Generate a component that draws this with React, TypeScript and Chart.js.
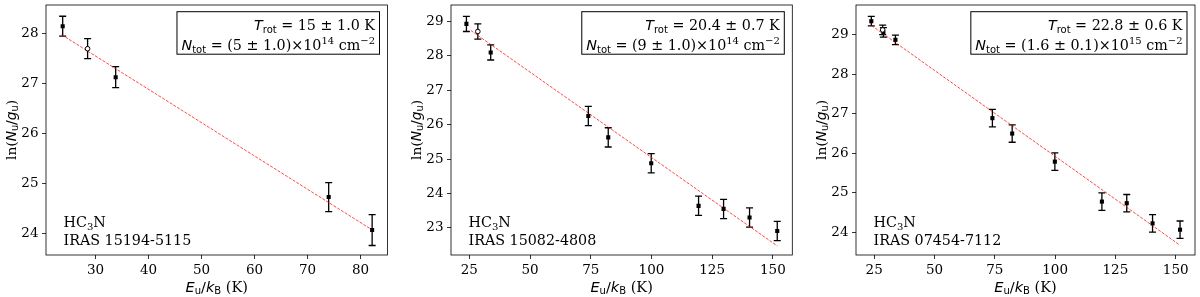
import React, { useEffect, useRef } from "react";
import { Chart, registerables } from "chart.js";
Chart.register(...registerables);

// ---------- Panel 1 : IRAS 15194-5115 ----------
const p1Energy = [23.8, 28.5, 33.8, 74.0, 82.2];
const p1LnN = [28.15, 27.70, 27.13, 24.73, 24.07];
const p1Err = [0.20, 0.20, 0.21, 0.29, 0.31];
const p1Open = [false, true, false, false, false];
const p1FitE = [23.6, 81.8];
const p1FitLn = [27.98, 24.10];
const p1XRange = [20.65, 85.1];
const p1YRange = [23.57, 28.575];
const p1XTicks = [30, 40, 50, 60, 70, 80];
const p1YTicks = [24, 25, 26, 27, 28];
const p1Trot = "15 ± 1.0 K";
const p1NtotMant = "(5 ± 1.0)×10";
const p1NtotExp = "14";
const p1Source = "IRAS 15194-5115";

// ---------- Panel 2 : IRAS 15082-4808 ----------
const p2Energy = [23.8, 28.5, 33.8, 74.0, 82.2, 99.9, 119.4, 129.7, 140.4, 151.8];
const p2LnN = [28.93, 28.71, 28.10, 26.25, 25.63, 24.88, 23.64, 23.55, 23.30, 22.91];
const p2Err = [0.22, 0.22, 0.22, 0.28, 0.28, 0.28, 0.28, 0.28, 0.28, 0.28];
const p2Open = [false, true, false, false, false, false, false, false, false, false];
const p2FitE = [25.6, 151.9];
const p2FitLn = [28.74, 22.47];
const p2XRange = [17.45, 158.0];
const p2YRange = [22.21, 29.48];
const p2XTicks = [25, 50, 75, 100, 125, 150];
const p2YTicks = [23, 24, 25, 26, 27, 28, 29];
const p2Trot = "20.4 ± 0.7 K";
const p2NtotMant = "(9 ± 1.0)×10";
const p2NtotExp = "14";
const p2Source = "IRAS 15082-4808";

// ---------- Panel 3 : IRAS 07454-7112 ----------
const p3Energy = [23.8, 28.5, 28.8, 33.8, 74.0, 82.2, 99.9, 119.4, 129.7, 140.4, 151.8];
const p3LnN = [29.34, 29.12, 29.06, 28.87, 26.89, 26.50, 25.79, 24.78, 24.74, 24.23, 24.07];
const p3Err = [0.12, 0.12, 0.12, 0.12, 0.22, 0.22, 0.22, 0.22, 0.22, 0.22, 0.22];
const p3Open = [false, true, false, false, false, false, false, false, false, false, false];
const p3FitE = [23.9, 151.7];
const p3FitLn = [29.23, 23.68];
const p3XRange = [17.45, 158.0];
const p3YRange = [23.43, 29.75];
const p3XTicks = [25, 50, 75, 100, 125, 150];
const p3YTicks = [24, 25, 26, 27, 28, 29];
const p3Trot = "22.8 ± 0.6 K";
const p3NtotMant = "(1.6 ± 0.1)×10";
const p3NtotExp = "15";
const p3Source = "IRAS 07454-7112";

const molecule = ["HC", "3", "N"];

type PanelData = {
  energy: number[]; lnN: number[]; err: number[]; open: boolean[];
  fitE: number[]; fitLn: number[]; xRange: number[]; yRange: number[];
  xTicks: number[]; yTicks: number[]; trot: string; ntotMant: string; ntotExp: string; source: string;
};

const panelsData: PanelData[] = [
  { energy: p1Energy, lnN: p1LnN, err: p1Err, open: p1Open, fitE: p1FitE, fitLn: p1FitLn, xRange: p1XRange, yRange: p1YRange, xTicks: p1XTicks, yTicks: p1YTicks, trot: p1Trot, ntotMant: p1NtotMant, ntotExp: p1NtotExp, source: p1Source },
  { energy: p2Energy, lnN: p2LnN, err: p2Err, open: p2Open, fitE: p2FitE, fitLn: p2FitLn, xRange: p2XRange, yRange: p2YRange, xTicks: p2XTicks, yTicks: p2YTicks, trot: p2Trot, ntotMant: p2NtotMant, ntotExp: p2NtotExp, source: p2Source },
  { energy: p3Energy, lnN: p3LnN, err: p3Err, open: p3Open, fitE: p3FitE, fitLn: p3FitLn, xRange: p3XRange, yRange: p3YRange, xTicks: p3XTicks, yTicks: p3YTicks, trot: p3Trot, ntotMant: p3NtotMant, ntotExp: p3NtotExp, source: p3Source },
];

// layout (pixel geometry of each panel's canvas)
const layouts = [
  { left: 0, areaLeft: 46, areaRight: 387.5 },
  { left: 400, areaLeft: 51, areaRight: 392.3 },
  { left: 800, areaLeft: 56, areaRight: 397 },
];
const CANVAS_W = 400;
const CANVAS_H = 297;
const AREA_TOP = 2.7;
const AREA_BOTTOM = 255;

const SERIF = '"DejaVu Serif", serif';
const SANS = '"DejaVu Sans", sans-serif';
const F_SERIF = `14.3px ${SERIF}`;
const F_SERIF_S = `10px ${SERIF}`;
const F_SANS_IT = `italic 14.3px ${SANS}`;
const F_SANS_S = `10px ${SANS}`;
const F_XT = `14.5px ${SANS}`;
const F_XT_IT = `italic 14.5px ${SANS}`;
const F_XT_S = `10px ${SANS}`;
const F_XT_SERIF = `14.5px ${SERIF}`;
const F_YT_SERIF = `13.8px ${SERIF}`;
const F_YT = `13.8px ${SANS}`;
const F_YT_IT = `italic 13.8px ${SANS}`;
const F_YT_S = `9.7px ${SANS}`;

type Seg = { t: string; f: string; dy?: number };

function segsWidth(ctx: CanvasRenderingContext2D, segs: Seg[]) {
  let w = 0;
  for (const s of segs) { ctx.font = s.f; w += ctx.measureText(s.t).width; }
  return w;
}
function drawSegs(ctx: CanvasRenderingContext2D, segs: Seg[], x: number, y: number, align: "left" | "right" | "center") {
  const w = segsWidth(ctx, segs);
  let cx = align === "left" ? x : align === "right" ? x - w : x - w / 2;
  ctx.textAlign = "left";
  ctx.textBaseline = "alphabetic";
  ctx.fillStyle = "#000";
  for (const s of segs) {
    ctx.font = s.f;
    ctx.fillText(s.t, cx, y + (s.dy || 0));
    cx += ctx.measureText(s.t).width;
  }
}

function makePlugin(d: PanelData) {
  return {
    id: "panelDeco",
    beforeDatasetsDraw(chart: any) {
      const ctx: CanvasRenderingContext2D = chart.ctx;
      const xs = chart.scales.x, ys = chart.scales.y;
      ctx.save();
      ctx.strokeStyle = "#000";
      ctx.lineWidth = 1.3;
      for (let i = 0; i < d.energy.length; i++) {
        const px = xs.getPixelForValue(d.energy[i]);
        const yt = ys.getPixelForValue(d.lnN[i] + d.err[i]);
        const yb = ys.getPixelForValue(d.lnN[i] - d.err[i]);
        ctx.beginPath();
        ctx.moveTo(px, yt); ctx.lineTo(px, yb);
        ctx.moveTo(px - 3.5, yt); ctx.lineTo(px + 3.5, yt);
        ctx.moveTo(px - 3.5, yb); ctx.lineTo(px + 3.5, yb);
        ctx.stroke();
      }
      ctx.restore();
    },
    afterDraw(chart: any) {
      const ctx: CanvasRenderingContext2D = chart.ctx;
      const a = chart.chartArea;
      ctx.save();
      // frame
      ctx.strokeStyle = "#000";
      ctx.lineWidth = 0.8;
      ctx.strokeRect(a.left, a.top, a.right - a.left, a.bottom - a.top);

      // text box
      const line1: Seg[] = [
        { t: "T", f: F_SANS_IT }, { t: "rot", f: F_SANS_S, dy: 3 }, { t: " = " + d.trot, f: F_SERIF },
      ];
      const line2: Seg[] = [
        { t: "N", f: F_SANS_IT }, { t: "tot", f: F_SANS_S, dy: 3 }, { t: " = " + d.ntotMant, f: F_SERIF },
        { t: d.ntotExp, f: F_SERIF_S, dy: -6 }, { t: " cm", f: F_SERIF }, { t: "−2", f: F_SERIF_S, dy: -6 },
      ];
      const w = Math.max(segsWidth(ctx, line1), segsWidth(ctx, line2));
      const boxRight = a.right - 8;
      const textRight = boxRight - 4.5;
      const boxLeft = textRight - w - 4.5;
      const boxTop = a.top + 6.7;
      const boxBottom = boxTop + 42.5;
      ctx.fillStyle = "#fff";
      ctx.fillRect(boxLeft, boxTop, boxRight - boxLeft, boxBottom - boxTop);
      ctx.strokeStyle = "#000";
      ctx.lineWidth = 1;
      ctx.strokeRect(boxLeft, boxTop, boxRight - boxLeft, boxBottom - boxTop);
      drawSegs(ctx, line1, textRight, boxTop + 18.5, "right");
      drawSegs(ctx, line2, textRight, boxTop + 38.5, "right");

      // molecule / source annotation
      const tx = a.left + 17.5;
      drawSegs(ctx, [{ t: molecule[0], f: F_SERIF }, { t: molecule[1], f: F_SERIF_S, dy: 3 }, { t: molecule[2], f: F_SERIF }], tx, 226.5, "left");
      drawSegs(ctx, [{ t: d.source, f: F_SERIF }], tx, 244.5, "left");

      // x title
      const xTitle: Seg[] = [
        { t: "E", f: F_XT_IT }, { t: "u", f: F_XT_S, dy: 2.8 }, { t: "/", f: F_XT },
        { t: "k", f: F_XT_IT }, { t: "B", f: F_XT_S, dy: 2.8 }, { t: " (K)", f: F_XT_SERIF },
      ];
      drawSegs(ctx, xTitle, (a.left + a.right) / 2, 291.5, "center");

      // y title
      const yTitle: Seg[] = [
        { t: "ln(", f: F_YT_SERIF }, { t: "N", f: F_YT_IT }, { t: "u", f: F_YT_S, dy: 2.8 }, { t: "/", f: F_YT },
        { t: "g", f: F_YT_IT }, { t: "u", f: F_YT_S, dy: 2.8 }, { t: ")", f: F_YT_SERIF },
      ];
      ctx.save();
      ctx.translate(a.left - 30.5, (a.top + a.bottom) / 2);
      ctx.rotate(-Math.PI / 2);
      drawSegs(ctx, yTitle, 0, 0, "center");
      ctx.restore();

      ctx.restore();
    },
  };
}

function Panel({ d, lay }: { d: PanelData; lay: { left: number; areaLeft: number; areaRight: number } }) {
  const ref = useRef<HTMLCanvasElement | null>(null);
  useEffect(() => {
    if (!ref.current) return;
    const filled = d.energy.map((x, i) => ({ x, y: d.lnN[i] })).filter((_, i) => !d.open[i]);
    const opened = d.energy.map((x, i) => ({ x, y: d.lnN[i] })).filter((_, i) => d.open[i]);
    const fit = d.fitE.map((x, i) => ({ x, y: d.fitLn[i] }));
    const tickFont = { family: SERIF, size: 13.5 };
    const chart = new Chart(ref.current, {
      type: "scatter",
      data: {
        datasets: [
          { data: opened, pointStyle: "circle", pointRadius: 2.3, backgroundColor: "#fff", borderColor: "#000", borderWidth: 1, order: 0 } as any,
          { data: filled, pointStyle: "rect", pointRadius: 2.9, backgroundColor: "#000", borderColor: "#000", borderWidth: 0, order: 1 } as any,
          { data: fit, showLine: true, pointRadius: 0, borderColor: "rgba(255,0,0,0.9)", borderWidth: 0.8, borderDash: [3, 1.4], order: 2 } as any,
        ],
      },
      options: {
        responsive: false,
        animation: false,
        events: [],
        layout: { padding: { top: AREA_TOP, left: 0, right: CANVAS_W - lay.areaRight, bottom: 0 } },
        plugins: { legend: { display: false }, tooltip: { enabled: false }, title: { display: false } },
        scales: {
          x: {
            type: "linear",
            min: d.xRange[0], max: d.xRange[1],
            afterBuildTicks: (s: any) => { s.ticks = d.xTicks.map((v) => ({ value: v })); },
            afterFit: (s: any) => { s.height = CANVAS_H - AREA_BOTTOM; s.paddingLeft = 0; s.paddingRight = 0; },
            ticks: { font: tickFont, color: "#000", padding: 3, maxRotation: 0, autoSkip: false, callback: (v: any) => String(v) },
            grid: { display: true, drawOnChartArea: false, drawTicks: true, tickLength: 4, color: "#000", lineWidth: 0.8 },
            border: { display: false },
          },
          y: {
            type: "linear",
            min: d.yRange[0], max: d.yRange[1],
            afterBuildTicks: (s: any) => { s.ticks = d.yTicks.map((v) => ({ value: v })); },
            afterFit: (s: any) => { s.width = lay.areaLeft; s.paddingTop = 0; s.paddingBottom = 0; },
            ticks: { font: tickFont, color: "#000", padding: 3.5, autoSkip: false, callback: (v: any) => String(v) },
            grid: { display: true, drawOnChartArea: false, drawTicks: true, tickLength: 4, color: "#000", lineWidth: 0.8 },
            border: { display: false },
          },
        },
      } as any,
      plugins: [makePlugin(d)],
    });
    return () => chart.destroy();
  }, [d, lay]);
  return (
    <canvas
      ref={ref}
      width={CANVAS_W}
      height={CANVAS_H}
      style={{ position: "absolute", left: lay.left, top: 0, width: CANVAS_W, height: CANVAS_H }}
    />
  );
}

export default function App() {
  return (
    <div style={{ position: "absolute", left: 0, top: 0, width: 1200, height: 297, background: "#fff" }}>
      {panelsData.map((d, i) => (
        <Panel key={i} d={d} lay={layouts[i]} />
      ))}
    </div>
  );
}
